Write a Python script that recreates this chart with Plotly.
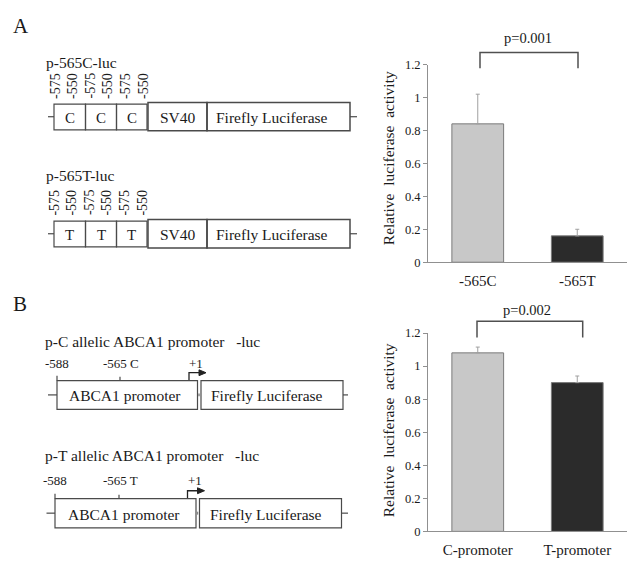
import plotly.graph_objects as go

# ---- data ----
cats_a = ["-565C", "-565T"]
vals_a = [0.84, 0.16]
errs_a = [0.18, 0.04]
cats_b = ["C-promoter", "T-promoter"]
vals_b = [1.08, 0.90]
errs_b = [0.035, 0.04]
bar_colors = ["#c8c8c8", "#2b2b2b"]
y_tickvals = [0, 0.2, 0.4, 0.6, 0.8, 1.0, 1.2]
y_ticktext = ["0", "0.2", "0.4", "0.6", "0.8", "1", "1.2"]
p_a = "p=0.001"
p_b = "p=0.002"
ytitle = "Relative\u00a0 luciferase\u00a0 activity"

W, H = 634, 566
SERIF = "Liberation Serif, Times New Roman, serif"
INK = "#1a1a1a"
LINE = "#4a4a4a"

fig = go.Figure()

for cats, vals, errs, xa, ya in [(cats_a, vals_a, errs_a, "x", "y"),
                                 (cats_b, vals_b, errs_b, "x2", "y2")]:
    fig.add_trace(go.Bar(
        x=cats, y=vals, xaxis=xa, yaxis=ya, width=0.52,
        marker=dict(color=bar_colors, line=dict(color="#7a7a7a", width=1)),
        error_y=dict(type="data", array=errs, arrayminus=[0] * len(errs),
                     symmetric=False, color="#a0a0a0", thickness=1, width=2),
        showlegend=False, hoverinfo="skip"))

xdom = [428 / W, 627 / W]
axis_common = dict(showline=True, linecolor="#909090", linewidth=1,
                   ticks="outside", ticklen=4, tickcolor="#909090",
                   showgrid=False, zeroline=False,
                   tickfont=dict(family=SERIF, size=12.5, color=INK))
xcommon = dict(axis_common, ticks="", ticklabelstandoff=5,
               tickfont=dict(family=SERIF, size=15, color=INK))

def ydict(dom, anchor):
    return dict(axis_common, domain=dom, anchor=anchor, range=[0, 1.2],
                tickvals=y_tickvals, ticktext=y_ticktext)

fig.update_layout(
    width=W, height=H, margin=dict(l=0, r=0, t=0, b=0),
    paper_bgcolor="white", plot_bgcolor="rgba(0,0,0,0)",
    xaxis=dict(xcommon, domain=xdom, anchor="y"),
    yaxis=ydict([1 - 261.7 / H, 1 - 59 / H], "x"),
    xaxis2=dict(xcommon, domain=xdom, anchor="y2"),
    yaxis2=ydict([1 - 537.7 / H, 1 - 334.3 / H], "x2"),
    xaxis3=dict(domain=[0, 1], range=[0, W], visible=False, anchor="y3", fixedrange=True),
    yaxis3=dict(domain=[0, 1], range=[H, 0], visible=False, anchor="x3", fixedrange=True),
)

shapes = []
annots = []

def line(x0, y0, x1, y1, color=LINE, w=1.2):
    shapes.append(dict(type="line", xref="x3", yref="y3", x0=x0, y0=y0, x1=x1, y1=y1,
                       line=dict(color=color, width=w)))

def rect(x0, y0, x1, y1, color=LINE, w=1.2):
    shapes.append(dict(type="rect", xref="x3", yref="y3", x0=x0, y0=y0, x1=x1, y1=y1,
                       line=dict(color=color, width=w), fillcolor="rgba(0,0,0,0)"))

def path(d, color=LINE, w=1.2, fill="rgba(0,0,0,0)"):
    shapes.append(dict(type="path", xref="x3", yref="y3", path=d,
                       line=dict(color=color, width=w), fillcolor=fill))

def text(x, y, s, size=15, anchor="center", angle=0):
    annots.append(dict(xref="x3", yref="y3", x=x, y=y, text=s, showarrow=False,
                       xanchor=anchor, yanchor="middle", textangle=angle,
                       font=dict(family=SERIF, size=size, color=INK)))

# axis titles
text(388, 155, ytitle, size=15.5, angle=-90)
text(388, 434, ytitle, size=15.5, angle=-90)

# panel letters
text(20.5, 19.5, "A", size=21)
text(20, 305, "B", size=21)

# ---- panel A constructs ----
pos_labels = ["-575", "-550", "-575", "-550", "-575", "-550"]
pos_x = [55, 72, 89.5, 107, 125, 143]
for title, allele, ty, ly, by0, by1 in [("p-565C-luc", "C", 57, 81, 98, 127),
                                        ("p-565T-luc", "T", 173, 200.5, 218, 247)]:
    text(44, ty, title, size=15.5, anchor="left")
    for xx, lab in zip(pos_x, pos_labels):
        text(xx, ly, lab, size=14, angle=-90)
    ym = (by0 + by1) / 2
    line(48, ym, 54, ym)
    edges = [54, 85.5, 116.5, 147]
    for i in range(3):
        rect(edges[i], by0 + 1.5, edges[i + 1], by1 - 1)
        text((edges[i] + edges[i + 1]) / 2, ym + 1, allele, size=15)
    rect(148, by0, 207, by1, w=1.5)
    rect(207, by0, 350, by1, w=1.5)
    text(178, ym + 1, "SV40", size=15.5)
    text(272, ym + 1, "Firefly Luciferase", size=15.5)
    line(350, ym, 357, ym)

# ---- panel B constructs ----
for title, lab565, ty, ly, tx0, tx1, by0, by1, dx in [
        ("p-C allelic ABCA1 promoter\u00a0\u00a0 -luc", "-565 C", 343, 365.5, 57, 120, 383, 412.5, 0),
        ("p-T allelic ABCA1 promoter\u00a0\u00a0 -luc", "-565 T", 460, 485.5, 55, 119, 504, 534, -1.5)]:
    text(43, ty, title, size=15.5, anchor="left")
    text(tx0, ly, "-588", size=13)
    text(tx1 + 1, ly, lab565, size=13)
    text(196 + dx, ly, "+1", size=13)
    line(tx0, by0 - 5, tx0, by0)
    line(tx1, by0 - 4, tx1, by0)
    ax = 189 + dx
    path(f"M {ax} {by0} L {ax} {by0 - 8} L {ax + 12} {by0 - 8}", color="#222", w=1.3)
    path(f"M {ax + 10} {by0 - 11} L {ax + 17} {by0 - 8} L {ax + 10} {by0 - 5} Z",
         color="#222", w=1, fill="#222")
    ym = (by0 + by1) / 2
    line(48 + dx, ym, tx0, ym)
    rect(tx0, by0, 197.5 + dx, by1)
    rect(201 + dx, by0, 343 + dx, by1)
    line(199 + dx, ym - 1.5, 199 + dx, ym + 1.5, color="#888", w=1.5)
    line(343 + dx, ym, 348, ym)
    text(125 + dx, ym + 1, "ABCA1 promoter", size=15.5)
    text(267 + dx, ym + 1, "Firefly Luciferase", size=15.5)

# ---- significance brackets ----
path("M 480 62.7 L 480 46.7 L 578 46.7 L 578 62.7", color="#505050", w=1.5)
text(528, 32, p_a, size=14.5)
path("M 477 339 L 477 322.3 L 582.7 322.3 L 582.7 339", color="#505050", w=1.5)
text(527, 311, p_b, size=14.5)

fig.update_layout(shapes=shapes, annotations=annots)
fig.write_html("out.html", config={"displayModeBar": False},
               post_script="document.body.style.margin='0';")
